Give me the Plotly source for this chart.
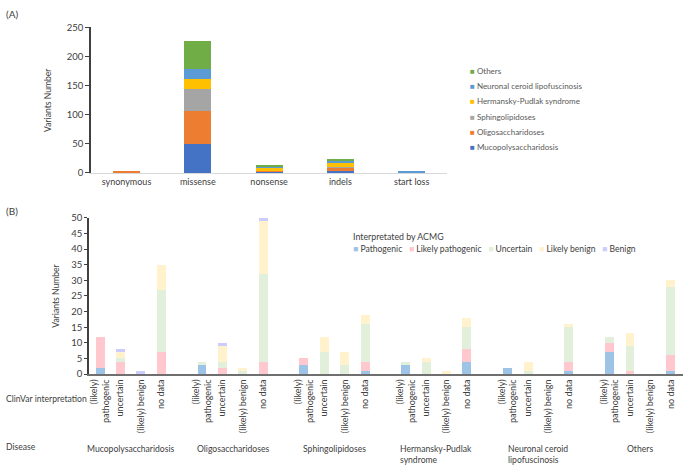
import plotly.graph_objects as go

W, H = 683, 466
FONT = "Lato"
GREY = "#595959"
DARK = "#404040"

# ---------------- Panel A data ----------------
a_categories = ["synonymous", "missense", "nonsense", "indels", "start loss"]
a_series = ["Mucopolysaccharidosis", "Oligosaccharidoses", "Sphingolipidoses",
            "Hermansky-Pudlak syndrome", "Neuronal ceroid lipofuscinosis", "Others"]
a_muco = [0, 50, 1, 3, 0]
a_oligo = [3, 57, 2, 5, 0]
a_sphingo = [0, 38, 1, 3, 0]
a_hps = [0, 17, 5, 6, 0]
a_ncl = [0, 16, 2, 3, 2]
a_others = [0, 49, 3, 4, 0]
a_colors = ["#4472c4", "#ed7d31", "#a5a5a5", "#ffc000", "#5b9bd5", "#70ad47"]

# ---------------- Panel B data ----------------
diseases = ["Mucopolysaccharidosis", "Oligosaccharidoses", "Sphingolipidoses",
            "Hermansky-Pudlak<br>syndrome", "Neuronal ceroid<br>lipofuscinosis", "Others"]
clinvar = ["(likely)<br>pathogenic", "uncertain", "(likely) benign", "no data"]
acmg = ["Pathogenic", "Likely pathogenic", "Uncertain", "Likely benign", "Benign"]
b_pathogenic = [2, 0, 0, 0, 3, 0, 0, 0, 3, 0, 0, 1, 3, 0, 0, 4, 2, 0, 0, 1, 7, 0, 0, 1]
b_likely_path = [10, 4, 0, 7, 0, 2, 0, 4, 2, 0, 0, 3, 0, 0, 0, 4, 0, 0, 0, 3, 3, 1, 0, 5]
b_uncertain = [0, 1, 0, 20, 1, 2, 1, 28, 0, 7, 3, 12, 1, 4, 0, 7, 0, 1, 0, 11, 2, 8, 0, 22]
b_likely_benign = [0, 2, 0, 8, 0, 5, 1, 17, 0, 5, 4, 3, 0, 1, 1, 3, 0, 3, 0, 1, 0, 4, 0, 2]
b_benign = [0, 1, 1, 0, 0, 1, 0, 1, 0, 0, 0, 0, 0, 0, 0, 0, 0, 0, 0, 0, 0, 0, 0, 0]
b_colors = ["#9dc3e6", "#ffc7ce", "#e2efda", "#fff2cc", "#ccccff"]

fig = go.Figure()

# Panel A traces
for name, vals, col in zip(a_series, [a_muco, a_oligo, a_sphingo, a_hps, a_ncl, a_others], a_colors):
    fig.add_trace(go.Bar(x=a_categories, y=vals, name=name, marker_color=col,
                         marker_line_width=0, xaxis="x", yaxis="y", showlegend=False))

# Panel B positions: 4 bars per disease group plus one empty slot between groups
slot = len(clinvar) + 1
xpos = [g * slot + j for g in range(len(diseases)) for j in range(len(clinvar))]
ticktext = [c for _ in diseases for c in clinvar]

for name, vals, col in zip(acmg, [b_pathogenic, b_likely_path, b_uncertain, b_likely_benign, b_benign], b_colors):
    fig.add_trace(go.Bar(x=xpos, y=vals, name=name, marker_color=col, width=0.44,
                         marker_line_width=0, xaxis="x2", yaxis="y2", showlegend=False))

ann = []


def label(text, x, y, size=9, color=DARK, xanchor="left", yanchor="middle", xref="paper", align="left"):
    ann.append(dict(text=text, x=x, y=y, xref=xref, yref="paper", xanchor=xanchor, yanchor=yanchor,
                    align=align, showarrow=False, font=dict(size=size, color=color)))


# Panel labels
label("(A)", 3 / W, 1 - 8 / H, size=10)
label("(B)", 3 / W, 1 - 210 / H, size=10)
label("ClinVar interpretation", 3 / W, 1 - 402 / H, size=8.6)
label("Disease", 3 / W, 1 - 452 / H, size=8.6)
for g, d in enumerate(diseases):
    ann.append(dict(text=d, x=g * slot + (len(clinvar) - 1) / 2, y=1 - 447 / H, xref="x2", yref="paper",
                    xanchor="center", yanchor="top", align="left", showarrow=False,
                    font=dict(size=8.6, color=DARK)))

# Panel A legend (vertical, Others on top)
for i, (n, c) in enumerate(zip(reversed(a_series), reversed(a_colors))):
    label(f"<span style='color:{c}'>■</span> {n}", 468 / W, 1 - (67 + i * 15.4) / H, size=8, color=GREY)

# Panel B legend (title + one row)
sp = "&nbsp;" * 3
row = sp.join(f"<span style='color:{c}'>■</span> {n}" for n, c in zip(acmg, b_colors))
label("Interpretated by ACMG", 351 / W, 1 - 236 / H, size=8.8)
label(row, 351 / W, 1 - 249 / H, size=8.6)

fig.update_layout(
    width=W, height=H,
    margin=dict(l=0, r=0, t=0, b=0),
    paper_bgcolor="white", plot_bgcolor="white",
    font=dict(family=FONT, size=9, color=GREY),
    barmode="stack", bargap=0.62,
    showlegend=False,
    annotations=ann,
    xaxis=dict(domain=[90 / W, 447 / W], anchor="y", type="category",
               showline=True, linecolor="#d9d9d9", linewidth=1, ticks="",
               tickfont=dict(size=9, color=DARK), showgrid=False),
    yaxis=dict(domain=[1 - 171 / H, 1 - 22 / H], anchor="x", range=[0, 250], dtick=50,
               showline=True, linecolor=DARK, linewidth=1.5, ticks="outside", ticklen=4,
               tickcolor=DARK, tickfont=dict(size=9.5, color=DARK), showgrid=False, zeroline=False,
               title=dict(text="Variants Number", font=dict(size=8.6, color=DARK), standoff=14)),
    xaxis2=dict(domain=[88 / W, 1.0], anchor="y2", range=[-0.55, 28.6],
                tickmode="array", tickvals=xpos, ticktext=ticktext, tickangle=-90,
                showline=True, linecolor="#6f6f6f", linewidth=1.5, ticks="",
                tickfont=dict(size=9, color=DARK), showgrid=False, zeroline=False),
    yaxis2=dict(domain=[1 - 377 / H, 1 - 217 / H], anchor="x2", range=[0, 50], dtick=5,
                showline=True, linecolor=DARK, linewidth=1.5, ticks="outside", ticklen=3,
                tickcolor=DARK, tickfont=dict(size=9.5, color=DARK), showgrid=False, zeroline=False,
                title=dict(text="Variants Number", font=dict(size=8.6, color=DARK), standoff=10)),
)

fig.write_html("out.html")
